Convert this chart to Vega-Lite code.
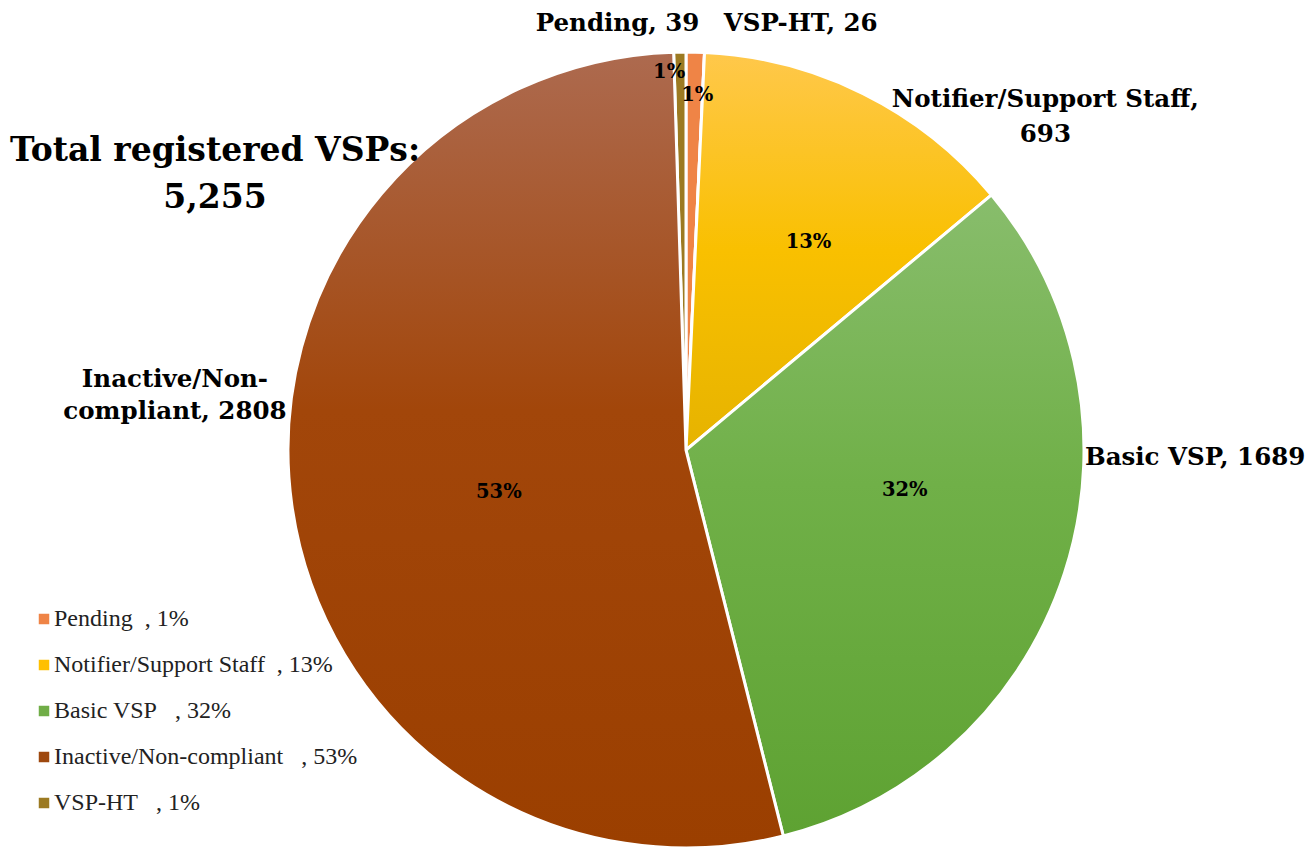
{
  "$schema": "https://vega.github.io/schema/vega-lite/v6.json",
  "width": 800,
  "height": 800,
  "autosize": {"type": "none"},
  "padding": {"left": 286, "top": 50, "right": 228, "bottom": 1},
  "background": "white",
  "config": {"view": {"stroke": null}},
  "title": {
    "text": ["Total registered VSPs:", "5,255"],
    "anchor": "start",
    "frame": "group",
    "align": "center",
    "baseline": "alphabetic",
    "offset": 0,
    "dx": -71,
    "dy": 230,
    "font": "DejaVu Serif",
    "fontSize": 33,
    "fontWeight": "bold",
    "color": "#000000",
    "lineHeight": 47
  },
  "data": {
    "values": [
      {"cat": "Pending", "value": 39, "order": 1, "ext": "Pending, 39", "pct": "1%"},
      {"cat": "Notifier/Support Staff", "value": 693, "order": 2, "ext": "Notifier/Support Staff,\n693", "pct": "13%"},
      {"cat": "Basic VSP", "value": 1689, "order": 3, "ext": "Basic VSP, 1689", "pct": "32%"},
      {"cat": "Inactive/Non-compliant", "value": 2808, "order": 4, "ext": "Inactive/Non-\ncompliant, 2808", "pct": "53%"},
      {"cat": "VSP-HT", "value": 26, "order": 5, "ext": "VSP-HT, 26", "pct": "1%"}
    ]
  },
  "transform": [
    {"stack": "value", "groupby": [], "sort": [{"field": "order", "order": "ascending"}], "as": ["t0", "t1"]},
    {"calculate": "(datum.t0 + datum.t1) / 2", "as": "mid"}
  ],
  "layer": [
    {
      "mark": {"type": "arc", "radius": 398, "stroke": "white", "strokeWidth": 3},
      "encoding": {
        "theta": {"field": "t0", "type": "quantitative", "stack": null, "scale": {"domain": [0, 5255]}},
        "theta2": {"field": "t1"},
        "color": {
          "field": "cat",
          "type": "nominal",
          "sort": ["Pending", "Notifier/Support Staff", "Basic VSP", "Inactive/Non-compliant", "VSP-HT"],
          "scale": {
            "domain": ["Pending", "Notifier/Support Staff", "Basic VSP", "Inactive/Non-compliant", "VSP-HT"],
            "range": ["#EF8446", "#FFC000", "#70AD47", "#9E480E", "#9C7A22"]
          },
          "legend": {
            "title": null,
            "orient": "none",
            "legendX": -254,
            "legendY": 557,
            "padding": 0,
            "symbolType": "square",
            "symbolSize": 110,
            "symbolStrokeWidth": 0,
            "symbolOpacity": 1,
            "labelFont": "Liberation Serif",
            "labelFontSize": 24,
            "labelColor": "#222222",
            "labelOffset": -2,
            "labelLimit": 500,
            "rowPadding": 22,
            "labelExpr": "{'Pending': 'Pending\u00a0\u00a0, 1%', 'Notifier/Support Staff': 'Notifier/Support Staff\u00a0\u00a0, 13%', 'Basic VSP': 'Basic VSP\u00a0\u00a0\u00a0, 32%', 'Inactive/Non-compliant': 'Inactive/Non-compliant\u00a0\u00a0\u00a0, 53%', 'VSP-HT': 'VSP-HT\u00a0\u00a0\u00a0, 1%'}[datum.label]"
          }
        }
      }
    },
    {
      "transform": [{"filter": "datum.cat == 'Notifier/Support Staff'"}],
      "mark": {"type": "arc", "radius": 398, "stroke": "white", "strokeWidth": 3,
        "fill": {"gradient": "linear", "x1": 0, "y1": 0, "x2": 0, "y2": 1,
          "stops": [{"offset": 0, "color": "#FFC84B"}, {"offset": 0.5, "color": "#F9C000"}, {"offset": 1, "color": "#E6B300"}]}},
      "encoding": {
        "theta": {"field": "t0", "type": "quantitative", "stack": null, "scale": {"domain": [0, 5255]}},
        "theta2": {"field": "t1"}
      }
    },
    {
      "transform": [{"filter": "datum.cat == 'Basic VSP'"}],
      "mark": {"type": "arc", "radius": 398, "stroke": "white", "strokeWidth": 3,
        "fill": {"gradient": "linear", "x1": 0, "y1": 0, "x2": 0, "y2": 1,
          "stops": [{"offset": 0, "color": "#88BD6C"}, {"offset": 0.45, "color": "#70B048"}, {"offset": 1, "color": "#5EA232"}]}},
      "encoding": {
        "theta": {"field": "t0", "type": "quantitative", "stack": null, "scale": {"domain": [0, 5255]}},
        "theta2": {"field": "t1"}
      }
    },
    {
      "transform": [{"filter": "datum.cat == 'Inactive/Non-compliant'"}],
      "mark": {"type": "arc", "radius": 398, "stroke": "white", "strokeWidth": 3,
        "fill": {"gradient": "linear", "x1": 0, "y1": 0, "x2": 0, "y2": 1,
          "stops": [{"offset": 0, "color": "#AD6A4F"}, {"offset": 0.45, "color": "#A2460A"}, {"offset": 1, "color": "#9B3F00"}]}},
      "encoding": {
        "theta": {"field": "t0", "type": "quantitative", "stack": null, "scale": {"domain": [0, 5255]}},
        "theta2": {"field": "t1"}
      }
    },
    {
      "transform": [{"filter": "datum.cat == 'Inactive/Non-compliant'"}],
      "mark": {"type": "text", "radius": 193, "dx": 4, "dy": 15, "font": "DejaVu Serif", "fontWeight": "bold", "fontSize": 19.5, "align": "center", "baseline": "middle", "color": "#000000"},
      "encoding": {
        "theta": {"field": "mid", "type": "quantitative", "stack": null, "scale": {"domain": [0, 5255]}},
        "text": {"field": "pct"}
      }
    },
    {
      "transform": [{"filter": "datum.cat == 'Basic VSP'"}],
      "mark": {"type": "text", "radius": 222.6, "dx": 7, "dy": -29, "font": "DejaVu Serif", "fontWeight": "bold", "fontSize": 19.5, "align": "center", "baseline": "middle", "color": "#000000"},
      "encoding": {
        "theta": {"field": "mid", "type": "quantitative", "stack": null, "scale": {"domain": [0, 5255]}},
        "text": {"field": "pct"}
      }
    },
    {
      "transform": [{"filter": "datum.cat == 'Notifier/Support Staff'"}],
      "mark": {"type": "text", "radius": 241.6, "dx": 15, "dy": 8, "font": "DejaVu Serif", "fontWeight": "bold", "fontSize": 19.5, "align": "center", "baseline": "middle", "color": "#000000"},
      "encoding": {
        "theta": {"field": "mid", "type": "quantitative", "stack": null, "scale": {"domain": [0, 5255]}},
        "text": {"field": "pct"}
      }
    },
    {
      "transform": [{"filter": "datum.cat == 'VSP-HT'"}],
      "mark": {"type": "text", "radius": 378, "dx": -11, "dy": 0, "font": "DejaVu Serif", "fontWeight": "bold", "fontSize": 19.5, "align": "center", "baseline": "middle", "color": "#000000"},
      "encoding": {
        "theta": {"field": "mid", "type": "quantitative", "stack": null, "scale": {"domain": [0, 5255]}},
        "text": {"field": "pct"}
      }
    },
    {
      "transform": [{"filter": "datum.cat == 'Pending'"}],
      "mark": {"type": "text", "radius": 355, "dx": 3, "dy": 0, "font": "DejaVu Serif", "fontWeight": "bold", "fontSize": 19.5, "align": "center", "baseline": "middle", "color": "#000000"},
      "encoding": {
        "theta": {"field": "mid", "type": "quantitative", "stack": null, "scale": {"domain": [0, 5255]}},
        "text": {"field": "pct"}
      }
    },
    {
      "transform": [{"filter": "datum.cat == 'Pending'"}],
      "mark": {"type": "text", "radius": 410, "dx": -78, "dy": -9, "font": "DejaVu Serif", "fontWeight": "bold", "fontSize": 24.5, "align": "center", "baseline": "alphabetic", "color": "#000000"},
      "encoding": {
        "theta": {"field": "mid", "type": "quantitative", "stack": null, "scale": {"domain": [0, 5255]}},
        "text": {"field": "ext"}
      }
    },
    {
      "transform": [{"filter": "datum.cat == 'VSP-HT'"}],
      "mark": {"type": "text", "radius": 410, "dx": 121, "dy": -9, "font": "DejaVu Serif", "fontWeight": "bold", "fontSize": 24.5, "align": "center", "baseline": "alphabetic", "color": "#000000"},
      "encoding": {
        "theta": {"field": "mid", "type": "quantitative", "stack": null, "scale": {"domain": [0, 5255]}},
        "text": {"field": "ext"}
      }
    },
    {
      "transform": [{"filter": "datum.cat == 'Notifier/Support Staff'"}],
      "mark": {"type": "text", "radius": 410, "dx": 177, "dy": 24, "lineBreak": "\n", "lineHeight": 35, "font": "DejaVu Serif", "fontWeight": "bold", "fontSize": 24.5, "align": "center", "baseline": "alphabetic", "color": "#000000"},
      "encoding": {
        "theta": {"field": "mid", "type": "quantitative", "stack": null, "scale": {"domain": [0, 5255]}},
        "text": {"field": "ext"}
      }
    },
    {
      "transform": [{"filter": "datum.cat == 'Basic VSP'"}],
      "mark": {"type": "text", "radius": 410, "dx": 9, "dy": -112, "font": "DejaVu Serif", "fontWeight": "bold", "fontSize": 24.5, "align": "left", "baseline": "alphabetic", "color": "#000000"},
      "encoding": {
        "theta": {"field": "mid", "type": "quantitative", "stack": null, "scale": {"domain": [0, 5255]}},
        "text": {"field": "ext"}
      }
    },
    {
      "transform": [{"filter": "datum.cat == 'Inactive/Non-compliant'"}],
      "mark": {"type": "text", "radius": 410, "dx": -105, "dy": -120, "lineBreak": "\n", "lineHeight": 32, "font": "DejaVu Serif", "fontWeight": "bold", "fontSize": 24.5, "align": "center", "baseline": "alphabetic", "color": "#000000"},
      "encoding": {
        "theta": {"field": "mid", "type": "quantitative", "stack": null, "scale": {"domain": [0, 5255]}},
        "text": {"field": "ext"}
      }
    }
  ]
}
